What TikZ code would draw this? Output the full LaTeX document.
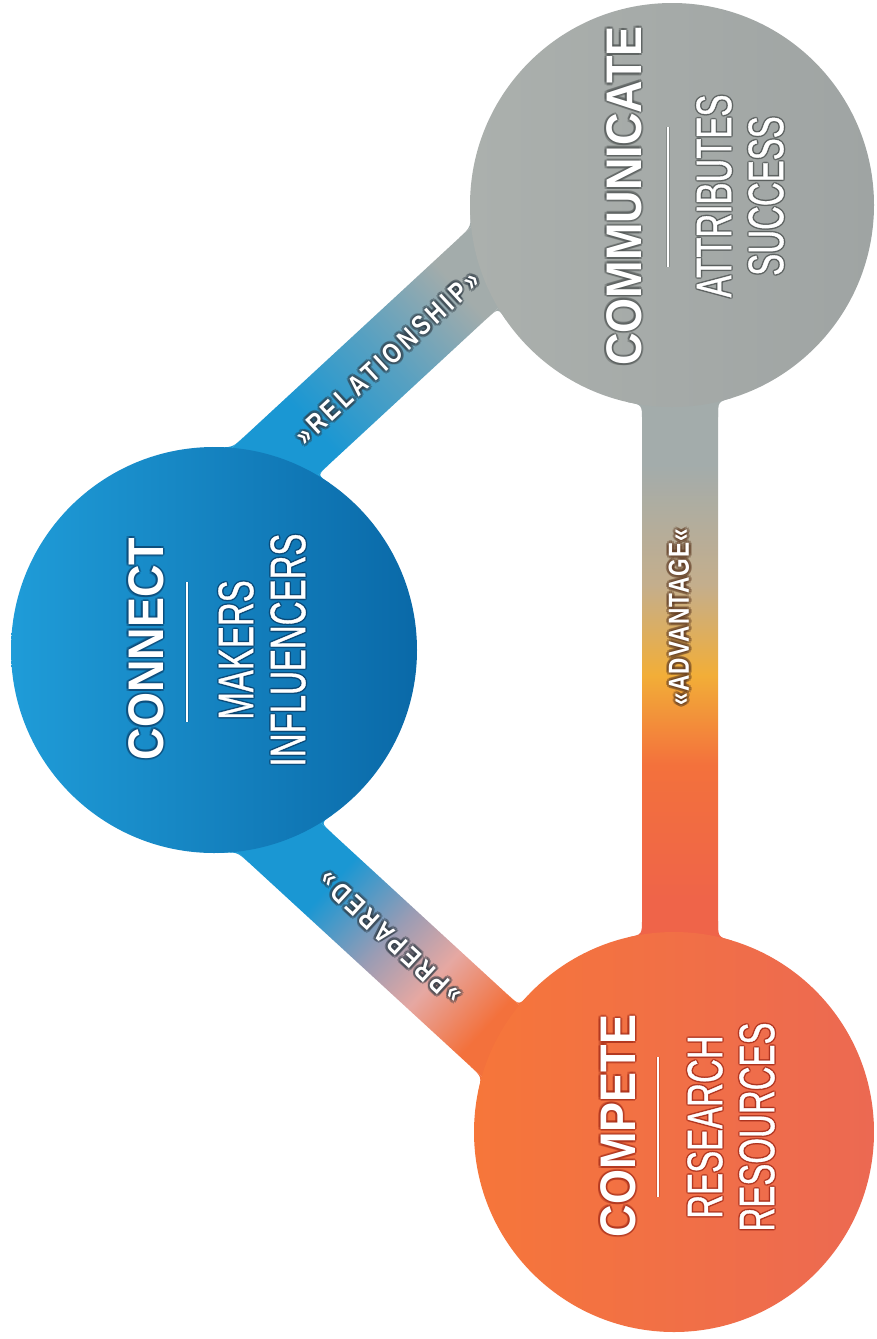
\documentclass[tikz,border=0pt]{standalone}
\usepackage{fontspec}
\setmainfont{Liberation Sans}
\newfontfamily\titlefont[FakeStretch=0.9]{Liberation Sans}
\newfontfamily\subfont[FakeStretch=0.66,FakeBold=0.7]{Liberation Sans}
\newfontfamily\bandfont[FakeStretch=0.8,LetterSpace=14]{Liberation Sans}
\newfontfamily\advfont[FakeStretch=0.78,LetterSpace=4]{Liberation Sans}

% palette
\definecolor{blueL}{HTML}{1F9CD8}
\definecolor{blueD}{HTML}{0A69A8}
\definecolor{greyL}{HTML}{ABB0AD}
\definecolor{greyD}{HTML}{9FA4A3}
\definecolor{orangeL}{HTML}{F6763A}
\definecolor{orangeD}{HTML}{EC6952}
\definecolor{bandBlue}{HTML}{1A97D3}
\definecolor{bandGrey}{HTML}{A3ACAB}
\definecolor{mauve}{HTML}{9A9CB4}
\definecolor{blush}{HTML}{E6A8A2}
\definecolor{bandOrange}{HTML}{F3713C}
\definecolor{amber}{HTML}{F2AE38}
\definecolor{sandtone}{HTML}{C4AE8C}
\definecolor{redOrange}{HTML}{EF6449}
\definecolor{haloBlue}{HTML}{0A3F6A}
\definecolor{haloGrey}{HTML}{4E5352}
\definecolor{haloRed}{HTML}{A32A18}
\definecolor{haloBand}{HTML}{2E3A44}
\definecolor{haloBrown}{HTML}{5E3A22}

% gradients along the three bands (25bp..75bp spans the shaded rectangle)
\pgfdeclarehorizontalshading{relshade}{100bp}{color(0bp)=(bandBlue); color(40bp)=(bandBlue); color(52bp)=(bandBlue!55!bandGrey); color(64bp)=(bandGrey); color(100bp)=(bandGrey)}
\pgfdeclarehorizontalshading{prepshade}{100bp}{color(0bp)=(bandBlue); color(42bp)=(bandBlue); color(51bp)=(mauve); color(58bp)=(blush); color(66bp)=(bandOrange); color(100bp)=(bandOrange)}
\pgfdeclareverticalshading{advshade}{100bp}{color(0bp)=(redOrange); color(35bp)=(redOrange); color(44bp)=(bandOrange); color(50bp)=(amber); color(56bp)=(sandtone); color(64bp)=(bandGrey); color(100bp)=(bandGrey)}

% white text with a soft dark rim: #1 name, #2 position, #3 style, #4 rim colour, #5 rim radius, #6 text
\newcommand{\glowlabel}[6]{%
  \foreach \ga in {0,45,...,315}
    \node[#3, text=#4, text opacity=0.4] at ([shift={(\ga:#5pt)}]#2) {#6};
  \node[#3, text=white] (#1) at (#2) {#6};
}
% concave fillet where a band meets a circle: colour, circle point, corner, band point, inner point
\newcommand{\fillet}[5]{\fill[#1] (#2) .. controls (#3) .. (#4) -- (#5) -- cycle;}

\tikzset{
  disc/.style={circle, inner sep=0pt},
  headtext/.style={rotate=90, inner sep=0pt, align=center,
    font=\titlefont\bfseries\fontsize{50}{52}\selectfont},
  subtext/.style={rotate=90, inner sep=0pt, align=center,
    font=\subfont\fontsize{50}{52}\selectfont},
  bandtext/.style={inner sep=0pt, font=\bandfont\bfseries\fontsize{28}{30}\selectfont},
  advtext/.style={rotate=90, inner sep=0pt, font=\advfont\bfseries\fontsize{29}{30}\selectfont},
  rim/.style={line width=4.5pt, draw opacity=0.35},
  rule/.style={line width=2.2pt, white},
}

\begin{document}
\begin{tikzpicture}[x=1pt,y=-1pt]
\useasboundingbox (0,0) rectangle (876,1339);
\fill[white] (0,0) rectangle (876,1339);

% corners of the triangle formed by the band centre lines
\coordinate (apexL) at (73,648);
\coordinate (apexT) at (680,87);
\coordinate (apexB) at (680,1206);

% RELATIONSHIP band, drawn along its own axis
\begin{scope}[transform canvas={shift={(apexL)},rotate=42.75}]
  \shade[shading=relshade] (200,-39) rectangle (620,39);
  \fillet{bandBlue}{238.8,-53}{252.7,-39}{268,-39}{235,-39}
  \fillet{bandBlue}{300.3,53}{296.7,39}{312,39}{285,39}
  \fillet{bandGrey}{589.7,-53}{578.3,-39}{562,-39}{600,-39}
  \fillet{bandGrey}{540.6,53}{543.1,39}{527,39}{560,39}
\end{scope}
% PREPARED band
\begin{scope}[transform canvas={shift={(apexL)},rotate=-42.59}]
  \shade[shading=prepshade] (200,-39) rectangle (640,39);
  \fillet{bandBlue}{245.3,53}{258.7,39}{274,39}{240,39}
  \fillet{bandBlue}{304,-53}{300.6,-39}{316,-39}{288,-39}
  \fillet{bandOrange}{599,53}{591.2,39}{576,39}{610,39}
  \fillet{bandOrange}{570.1,-53}{570.4,-39}{555,-39}{585,-39}
\end{scope}
% ADVANTAGE band
\shade[shading=advshade] (642,300) rectangle (718,1050);
\fillet{bandGrey}{628,402.2}{642,404.8}{642,420}{642,395}
\fillet{bandGrey}{732,397.9}{718,401.7}{718,417}{718,390}
\fillet{redOrange}{628,937.4}{642,934.6}{642,919}{642,948}
\fillet{redOrange}{732,940.6}{718,936.9}{718,921}{718,950}

% circles
\node[disc, minimum size=406pt, left color=blueL, right color=blueD] (connect) at (214,650) {};
\node[disc, minimum size=404pt, left color=greyL, right color=greyD] (communicate) at (672,205) {};
\node[disc, minimum size=400pt, left color=orangeL, right color=orangeD] (compete) at (674,1132) {};

% CONNECT
\glowlabel{connectHead}{146,649}{headtext}{haloBlue}{2.2}{CONNECT}
\draw[rim, haloBlue] (187,582) -- (187,722);
\draw[rule] (187,582) -- (187,722);
\glowlabel{connectSub}{262,650}{subtext}{haloBlue}{1.5}{MAKERS\\INFLUENCERS}

% COMMUNICATE
\glowlabel{communicateHead}{624,196}{headtext}{haloGrey}{2.2}{COMMUNICATE}
\draw[rim, haloGrey] (668,127) -- (668,267);
\draw[rule] (668,127) -- (668,267);
\glowlabel{communicateSub}{740,196}{subtext}{haloGrey}{1.5}{ATTRIBUTES\\SUCCESS}

% COMPETE
\glowlabel{competeHead}{618,1126}{headtext}{haloRed}{2.2}{COMPETE}
\draw[rim, haloRed] (658,1057) -- (658,1197);
\draw[rule] (658,1057) -- (658,1197);
\glowlabel{competeSub}{731,1127}{subtext}{haloRed}{1.5}{RESEARCH\\RESOURCES}

% band labels
\glowlabel{relLabel}{387,358}{bandtext, rotate=42.75}{haloBand}{2.8}{»RELATIONSHIP»}
\glowlabel{prepLabel}{390,938}{bandtext, rotate=137.41}{haloBand}{2.8}{»PREPARED»}
\glowlabel{advLabel}{679,617}{advtext}{haloBrown}{2.8}{«ADVANTAGE«}
\end{tikzpicture}
\end{document}
